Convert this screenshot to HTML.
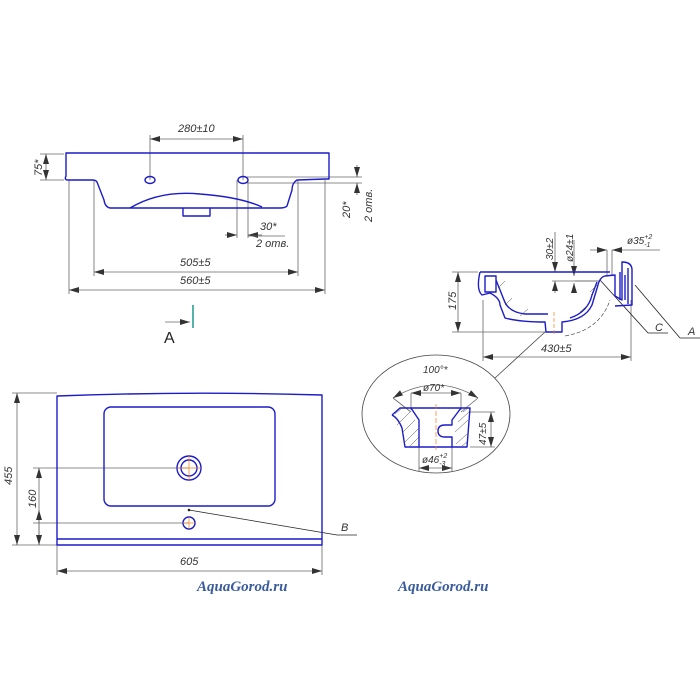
<!DOCTYPE html>
<html><head><meta charset="utf-8"><style>body{margin:0;background:#fff}svg{display:block}</style></head><body>
<svg width="700" height="700" viewBox="0 0 700 700" xmlns="http://www.w3.org/2000/svg" font-family="Liberation Sans, sans-serif">
<defs>
<marker id="a" viewBox="0 0 10 6" refX="10" refY="3" markerWidth="10" markerHeight="6" orient="auto-start-reverse" markerUnits="userSpaceOnUse"><path d="M0,0L10,3L0,6z" fill="#333"/></marker>
</defs>
<g stroke="#666" stroke-width="0.8" fill="none">
<!-- front view dims -->
<line x1="150" y1="135" x2="150" y2="180"/><line x1="243" y1="135" x2="243" y2="180"/>
<line x1="150" y1="139" x2="243" y2="139" marker-start="url(#a)" marker-end="url(#a)"/>
<line x1="40" y1="154" x2="64" y2="154"/><line x1="40" y1="180" x2="64" y2="180"/>
<line x1="46" y1="154" x2="46" y2="180" marker-start="url(#a)" marker-end="url(#a)"/>
<line x1="246" y1="177" x2="362" y2="177"/><line x1="246" y1="183" x2="362" y2="183"/>
<line x1="357" y1="165" x2="357" y2="177" marker-end="url(#a)"/><line x1="357" y1="195" x2="357" y2="183" marker-end="url(#a)"/>
<line x1="237" y1="180" x2="237" y2="238"/><line x1="248" y1="180" x2="248" y2="238"/>
<line x1="225" y1="235" x2="237" y2="235" marker-end="url(#a)"/><line x1="262" y1="235" x2="248" y2="235" marker-end="url(#a)"/>
<line x1="248" y1="236" x2="285" y2="236"/>
<line x1="94" y1="180" x2="94" y2="276"/><line x1="298" y1="180" x2="298" y2="276"/>
<line x1="94" y1="272" x2="298" y2="272" marker-start="url(#a)" marker-end="url(#a)"/>
<line x1="69" y1="180" x2="69" y2="294"/><line x1="325" y1="180" x2="325" y2="294"/>
<line x1="69" y1="290" x2="325" y2="290" marker-start="url(#a)" marker-end="url(#a)"/>
<line x1="165" y1="322" x2="190" y2="322" marker-end="url(#a)"/>
<!-- side view dims -->
<line x1="452" y1="272" x2="478" y2="272"/><line x1="452" y1="332" x2="552" y2="332"/>
<line x1="458" y1="272" x2="458" y2="332" marker-start="url(#a)" marker-end="url(#a)"/>
<line x1="483" y1="300" x2="483" y2="361"/><line x1="631" y1="300" x2="631" y2="361"/>
<line x1="483" y1="357" x2="631" y2="357" marker-start="url(#a)" marker-end="url(#a)"/>
<line x1="555" y1="232" x2="555" y2="272" marker-end="url(#a)"/><line x1="555" y1="293" x2="555" y2="281" marker-end="url(#a)"/>
<line x1="552" y1="281" x2="600" y2="281"/><line x1="575" y1="281" x2="600" y2="281"/>
<line x1="574" y1="240" x2="574" y2="276" marker-end="url(#a)"/><line x1="574" y1="292" x2="574" y2="283" marker-end="url(#a)"/>
<line x1="590" y1="250" x2="607" y2="250" marker-end="url(#a)"/><line x1="660" y1="250" x2="612" y2="250" marker-end="url(#a)"/>
<line x1="607" y1="250" x2="607" y2="275"/><line x1="612" y1="250" x2="612" y2="275"/>
<line x1="600" y1="280" x2="648" y2="333" stroke="#222"/><line x1="648" y1="333" x2="668" y2="333" stroke="#222"/>
<line x1="635" y1="285" x2="680" y2="338" stroke="#222"/><line x1="680" y1="338" x2="700" y2="338" stroke="#222"/>
<line x1="545" y1="332" x2="495" y2="378" stroke="#444"/>
<ellipse cx="436" cy="414" rx="74" ry="59" stroke="#444"/>
<!-- detail dims -->
<line x1="411" y1="393" x2="461" y2="393" marker-start="url(#a)" marker-end="url(#a)"/>
<line x1="411" y1="393" x2="411" y2="410"/><line x1="461" y1="393" x2="461" y2="410"/>
<path d="M393,398 Q436,372 478,398" marker-start="url(#a)" marker-end="url(#a)"/>
<line x1="393" y1="398" x2="411" y2="412"/><line x1="478" y1="398" x2="461" y2="412"/>
<line x1="470" y1="412" x2="495" y2="412"/><line x1="470" y1="447" x2="495" y2="447"/>
<line x1="491" y1="412" x2="491" y2="447" marker-start="url(#a)" marker-end="url(#a)"/>
<line x1="419" y1="447" x2="419" y2="472"/><line x1="452" y1="447" x2="452" y2="472"/>
<line x1="419" y1="468" x2="452" y2="468" marker-start="url(#a)" marker-end="url(#a)"/>
<!-- plan dims -->
<line x1="12" y1="393" x2="57" y2="393"/><line x1="12" y1="545" x2="57" y2="545"/>
<line x1="17" y1="393" x2="17" y2="545" marker-start="url(#a)" marker-end="url(#a)"/>
<line x1="33" y1="468" x2="189" y2="468"/><line x1="33" y1="523" x2="189" y2="523"/>
<line x1="39" y1="468" x2="39" y2="545" marker-start="url(#a)"/><line x1="39" y1="523" x2="39" y2="545" marker-end="url(#a)"/>
<line x1="39" y1="523" x2="39" y2="510" marker-end="url(#a)"/>
<line x1="57" y1="545" x2="57" y2="575"/><line x1="322" y1="545" x2="322" y2="575"/>
<line x1="57" y1="571" x2="322" y2="571" marker-start="url(#a)" marker-end="url(#a)"/>
<line x1="189" y1="510" x2="337" y2="535" stroke="#222"/><line x1="337" y1="535" x2="357" y2="535" stroke="#222"/>
</g>
<line x1="193" y1="305" x2="193" y2="328" stroke="#1a9a90" stroke-width="1.5"/>
<circle cx="189" cy="510" r="1.3" fill="#222"/>
<!-- blue outlines -->
<g stroke="#1c1cc8" stroke-width="1.4" fill="none" stroke-linejoin="round">
<path d="M66,153 H329 V179 H325 L297,180 Q292,183 292,190 L287,206 Q285,208 280,208 H110 Q105,207 104,200 L97,182 Q96,180 92,180 H68 Q64,180 66,176 Z"/>
<path d="M130,208 Q160,190 200,194 Q240,197 262,207"/>
<path d="M183,208 V216 H210 V208"/>
<ellipse cx="150" cy="180" rx="5" ry="3.5"/><ellipse cx="243" cy="180" rx="5" ry="3.5"/>
<!-- side -->
<path d="M480,272 H610 M480,272 Q476,290 482,295 L490,293 Q500,298 500,305 L505,318 Q520,322 545,322 L546,332 H562 V322 Q585,320 592,305 L598,285 Q600,277 605,276 L615,275 V296 L622,300 V262 Q632,262 632,270 V305 L615,306"/>
<path d="M485,276 H496 V292 H485 Z"/>
<path d="M496,280 L504,300 Q508,312 525,314 H548 M570,318 Q588,312 592,295 L597,282"/>
<path d="M620,272 V300 M625,275 V300 M628,268 V304"/>
<!-- detail -->
<path d="M392,415 L400,408 H411 L419,420 V447 H405 L402,428 Q398,418 392,415"/>
<path d="M411,408 H461 M419,447 H452"/>
<path d="M461,408 H470 L467,447 H452 V437 H445 Q438,437 438,431 Q438,425 445,425 H452 V420 Z"/>
<!-- plan -->
<path d="M57,396 Q190,391 322,395 V545 H57 Z"/>
<line x1="57" y1="539" x2="322" y2="539"/>
<rect x="104" y="407" width="171" height="99" rx="7"/>
<circle cx="189" cy="468" r="12"/><circle cx="189" cy="468" r="8"/>
<circle cx="189" cy="523" r="6"/>
</g>
<g stroke="#444" stroke-width="0.5">
<path d="M395,414 L402,408 M397,425 L410,412 M402,433 L415,420 M404,443 L418,429 M410,446 L419,437"/>
<path d="M463,412 L468,408 M458,422 L469,412 M455,432 L468,420 M456,444 L467,434 M462,446 L467,442"/>
<path d="M498,288 L505,281 M505,305 L512,298 M520,316 L528,309 M580,312 L588,305 M590,292 L597,285"/>
</g>
<g stroke="#f08020" stroke-width="0.7" fill="none">
<line x1="189" y1="456" x2="189" y2="480"/><line x1="177" y1="468" x2="201" y2="468"/>
<line x1="189" y1="517" x2="189" y2="529"/><line x1="183" y1="523" x2="195" y2="523"/>
<line x1="436" y1="404" x2="436" y2="450" stroke-dasharray="5,2"/>
<line x1="554" y1="312" x2="554" y2="336" stroke-dasharray="4,2"/>
</g>
<path d="M565,336 Q600,330 610,300" stroke="#333" stroke-width="0.6" fill="none" stroke-dasharray="4,2"/>
<g fill="#333" font-style="italic" font-size="11">
<text x="178" y="132">280±10</text>
<text x="180" y="266">505±5</text>
<text x="180" y="284">560±5</text>
<text x="260" y="230">30*</text>
<text x="256" y="247">2 отв.</text>
<text transform="translate(42,176) rotate(-90)">75*</text>
<text transform="translate(350,218) rotate(-90)">20*</text>
<text transform="translate(372,222) rotate(-90)">2 отв.</text>
<text x="541" y="352">430±5</text>
<text transform="translate(456,310) rotate(-90)">175</text>
<text transform="translate(553,260) rotate(-90)" font-size="10">30±2</text>
<text transform="translate(573,262) rotate(-90)" font-size="10">ø24±1</text>
<text x="627" y="244" font-size="10">ø35<tspan font-size="7" dy="-5">+2</tspan><tspan font-size="7" dx="-8" dy="8">-1</tspan></text>
<text x="655" y="331">C</text><text x="688" y="335">A</text>
<text x="423" y="373" font-size="10">100°*</text>
<text x="423" y="391" font-size="10">ø70*</text>
<text transform="translate(486,445) rotate(-90)" font-size="10">47±5</text>
<text x="422" y="463" font-size="10">ø46<tspan font-size="7" dy="-5">+2</tspan><tspan font-size="7" dx="-8" dy="8">-3</tspan></text>
<text transform="translate(12,485) rotate(-90)">455</text>
<text transform="translate(36,508) rotate(-90)">160</text>
<text x="180" y="565">605</text>
<text x="341" y="531">B</text>
</g>
<text x="164" y="343" font-size="16" fill="#222">A</text>
<g font-family="Liberation Serif, serif" font-weight="bold" font-style="italic" font-size="15" fill="#3a5c9c">
<text x="197" y="591">AquaGorod.ru</text>
<text x="398" y="591">AquaGorod.ru</text>
</g>
</svg>
</body></html>
